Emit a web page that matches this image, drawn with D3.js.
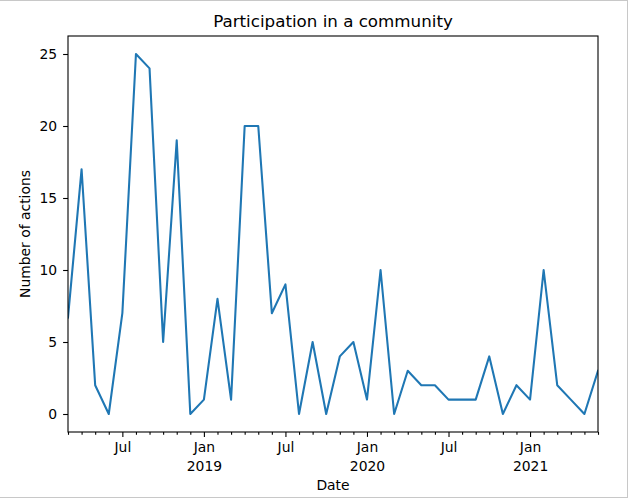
<!DOCTYPE html>
<html>
<head>
<meta charset="utf-8">
<script src="https://cdn.jsdelivr.net/npm/d3@7"></script>
<style>
  html, body { margin: 0; padding: 0; background: #fff; }
  svg { display: block; font-family: "DejaVu Sans", sans-serif; }
</style>
</head>
<body>
<svg id="chart" width="629" height="500"></svg>
<script>
// Data: monthly counts, March 2018 through June 2021
const months = [
  "2018-03","2018-04","2018-05","2018-06","2018-07","2018-08","2018-09","2018-10","2018-11","2018-12",
  "2019-01","2019-02","2019-03","2019-04","2019-05","2019-06","2019-07","2019-08","2019-09","2019-10","2019-11","2019-12",
  "2020-01","2020-02","2020-03","2020-04","2020-05","2020-06","2020-07","2020-08","2020-09","2020-10","2020-11","2020-12",
  "2021-01","2021-02","2021-03","2021-04","2021-05","2021-06"
];
const actions = [
  6.7, 17, 2, 0, 7, 25, 24, 5, 19, 0,
  1, 8, 1, 20, 20, 7, 9, 0, 5, 0, 4, 5,
  1, 10, 0, 3, 2, 2, 1, 1, 1, 4, 0, 2,
  1, 10, 2, 1, 0, 3
];
const yTicks = [0, 5, 10, 15, 20, 25];
const monthNames = ["Jan","Feb","Mar","Apr","May","Jun","Jul","Aug","Sep","Oct","Nov","Dec"];
const titleText = "Participation in a community";
const xLabelText = "Date";
const yLabelText = "Number of actions";

(function () {
const svg = d3.select("#chart");
const mL = 68, mR = 598, mT = 36, mB = 432;
const tickFont = "13.9px";

// outer frame (light gray) on top/right/bottom
svg.append("line").attr("x1", 0).attr("x2", 628).attr("y1", 0.5).attr("y2", 0.5).attr("stroke", "#c8c8c8");
svg.append("line").attr("x1", 627.5).attr("x2", 627.5).attr("y1", 0).attr("y2", 498).attr("stroke", "#c8c8c8");
svg.append("line").attr("x1", 0).attr("x2", 628).attr("y1", 497.5).attr("y2", 497.5).attr("stroke", "#c8c8c8");

const x = d3.scaleLinear().domain([0, months.length - 1]).range([mL, mR]);
const y = d3.scaleLinear().domain([-1.25, 26.25]).range([mB, mT]);

const parsed = months.map(m => { const [yy, mm] = m.split("-").map(Number); return {year: yy, month: mm}; });
const majorIdx = parsed.map((p, i) => (p.month === 1 || p.month === 7) ? i : -1).filter(i => i >= 0);
const allIdx = parsed.map((p, i) => i);
const minorIdx = allIdx.filter(i => !majorIdx.includes(i));

// clip path
svg.append("defs").append("clipPath").attr("id", "clip")
  .append("rect").attr("x", mL).attr("y", mT).attr("width", mR - mL).attr("height", mB - mT);

// line
const line = d3.line().x((d, i) => x(i)).y(d => y(d));
svg.append("path")
  .datum(actions)
  .attr("clip-path", "url(#clip)")
  .attr("fill", "none")
  .attr("stroke", "#1f77b4")
  .attr("stroke-width", 2.08)
  .attr("stroke-linejoin", "round")
  .attr("stroke-linecap", "square")
  .attr("d", line);

// x axis minor ticks
const xMinor = d3.axisBottom(x).tickValues(minorIdx).tickSize(2.8).tickFormat("");
svg.append("g").attr("transform", `translate(0,${mB})`).call(xMinor)
  .call(g => g.select(".domain").remove())
  .call(g => g.selectAll("line").attr("stroke", "#000").attr("stroke-width", 1.1));

// x axis major ticks
const xMajor = d3.axisBottom(x).tickValues(majorIdx).tickSize(4.9).tickPadding(5).tickFormat(() => "");
const gx = svg.append("g").attr("transform", `translate(0,${mB})`).call(xMajor);
gx.select(".domain").remove();
gx.selectAll("line").attr("stroke", "#000").attr("stroke-width", 1.1);
gx.selectAll(".tick").each(function(i) {
  const p = parsed[i];
  const t = d3.select(this).select("text")
    .attr("fill", "#000").attr("font-size", tickFont).attr("font-family", "DejaVu Sans")
    .attr("y", 0).attr("dy", null);
  t.text(null);
  t.append("tspan").attr("x", 0).attr("y", 20).text(monthNames[p.month - 1]);
  if (p.month === 1) t.append("tspan").attr("x", 0).attr("y", 39).text(String(p.year));
});

// y axis
const gy = svg.append("g").attr("transform", `translate(${mL},0)`)
  .call(d3.axisLeft(y).tickValues(yTicks).tickSize(4.9).tickPadding(6).tickFormat(d3.format("d")));
gy.select(".domain").remove();
gy.selectAll("line").attr("stroke", "#000").attr("stroke-width", 1.1);
gy.selectAll("text").attr("fill", "#000").attr("font-size", tickFont).attr("font-family", "DejaVu Sans");

// frame
svg.append("rect").attr("x", mL).attr("y", mT).attr("width", mR - mL).attr("height", mB - mT)
  .attr("fill", "none").attr("stroke", "#000").attr("stroke-width", 1.1);

// title & labels
svg.append("text").attr("x", (mL + mR) / 2).attr("y", 27).attr("text-anchor", "middle")
  .attr("font-size", "16.7px").attr("fill", "#000").text(titleText);
svg.append("text").attr("x", (mL + mR) / 2).attr("y", 490).attr("text-anchor", "middle")
  .attr("font-size", tickFont).attr("fill", "#000").text(xLabelText);
svg.append("text").attr("transform", `translate(29.5,${(mT + mB) / 2}) rotate(-90)`).attr("text-anchor", "middle")
  .attr("font-size", tickFont).attr("fill", "#000").text(yLabelText);
})();
</script>
</body>
</html>
